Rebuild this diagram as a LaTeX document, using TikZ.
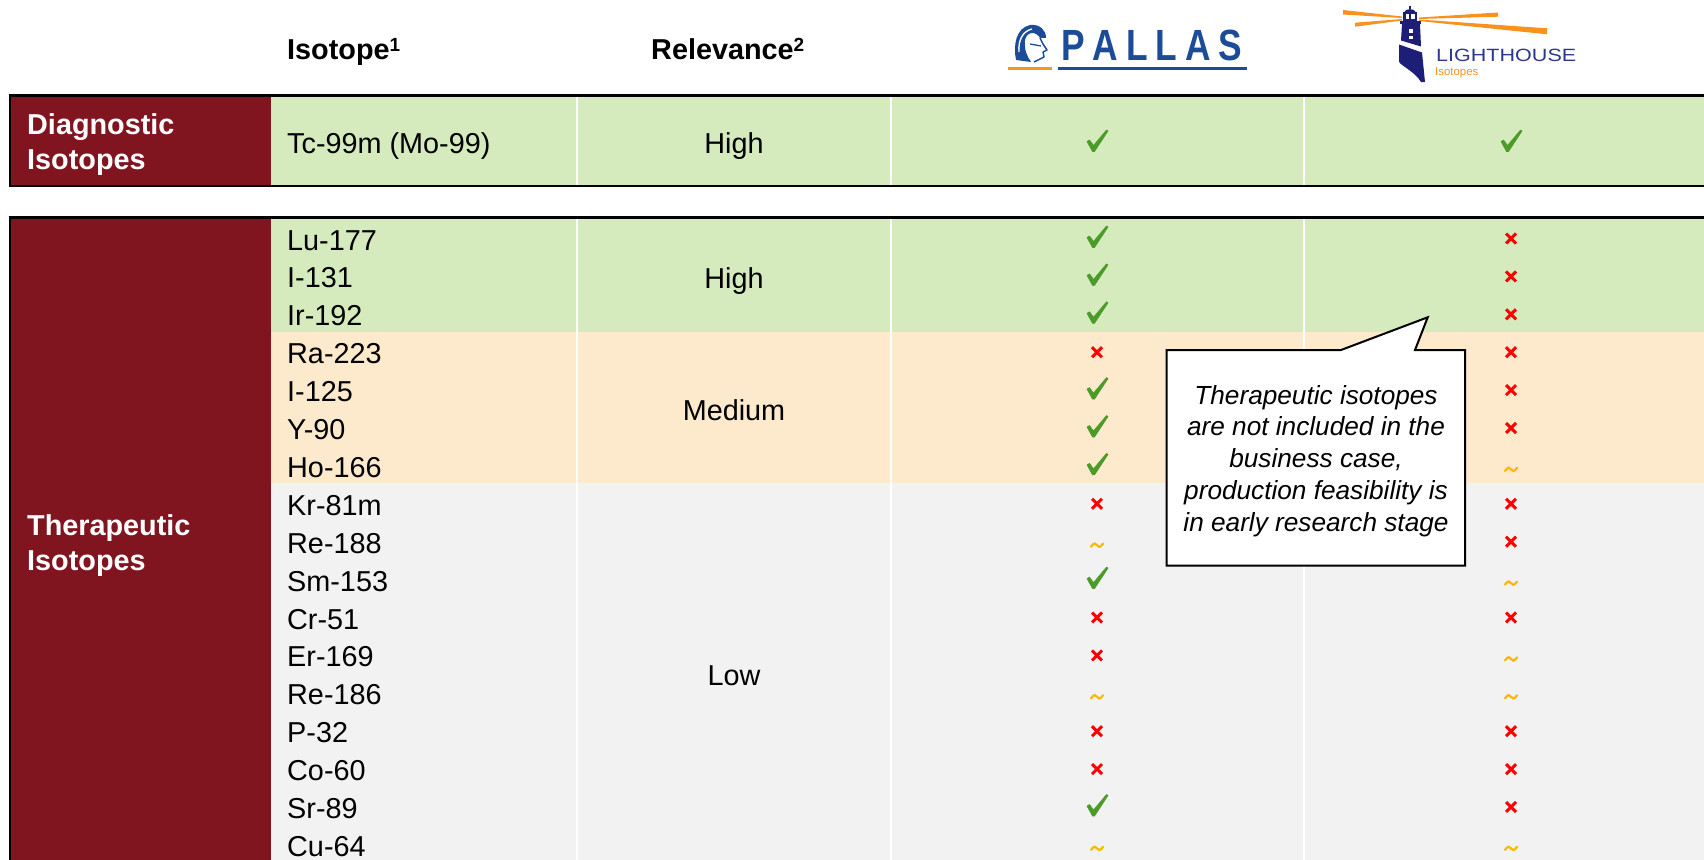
\documentclass[tikz,border=0pt]{standalone}
\usepackage{fontspec}
\usepackage{graphicx}
\setmainfont{Liberation Sans}
\definecolor{maroon}{RGB}{128,21,32}
\definecolor{bandgreen}{RGB}{213,235,190}
\definecolor{bandorange}{RGB}{253,233,203}
\definecolor{bandgrey}{RGB}{242,242,242}
\definecolor{tickgreen}{RGB}{75,155,40}
\definecolor{crossred}{RGB}{255,0,0}
\definecolor{tildeorange}{RGB}{250,185,0}
\definecolor{pallasblue}{RGB}{28,76,152}
\definecolor{pallasorange}{RGB}{245,150,30}
\definecolor{lhnavy}{RGB}{28,30,120}
\definecolor{lhtext}{RGB}{45,55,140}
\definecolor{lhorange}{RGB}{248,145,30}
\begin{document}
\begin{tikzpicture}[x=1pt,y=-1pt,
  cell/.style={font=\fontsize{28.8}{34}\selectfont, inner sep=0pt, text=black},
  hdr/.style={font=\fontsize{28.8}{34}\selectfont\bfseries, inner sep=0pt},
  grp/.style={font=\fontsize{28.8}{35}\selectfont\bfseries, text=white, align=left, inner sep=0pt},
  note/.style={font=\fontsize{26.2}{31.75}\selectfont\itshape, align=center, inner sep=0pt},
  tickmark/.pic={\filldraw[tickgreen, line width=0.6pt, line join=round]
     (-10,0.5) -- (-7.5,-1) -- (-3.5,4.5) -- (9.5,-11) -- (11,-10) -- (-2.5,10.5) -- (-4.5,10.5) -- cycle;},
  crossmark/.pic={\draw[crossred, line width=3pt] (-5,-3.5) -- (5,6.5) (5,-3.5) -- (-5,6.5);},
  tildemark/.pic={\draw[tildeorange, line width=2.2pt, line cap=round]
     (-6,6.5) .. controls (-3,2) and (-1,3) .. (0,5) .. controls (1,7) and (3,8) .. (6,3.5);}
]
\useasboundingbox (0,0) rectangle (1704,859);
\clip (0,0) rectangle (1704,859);

% ---------- table backgrounds ----------
\fill[maroon] (9.6,95.5) rectangle (271,186);
\fill[bandgreen] (271,95.5) rectangle (1730,186);
\fill[maroon] (9.6,217.5) rectangle (271,900);
\fill[bandgreen] (271,217.5) rectangle (1730,331.7);
\fill[bandorange] (271,331.7) rectangle (1730,483.3);
\fill[bandgrey] (271,483.3) rectangle (1730,900);
\foreach \sx in {577,891,1304} {
  \draw[white, line width=2.5pt] (\sx,95.5) -- (\sx,186);
  \draw[white, line width=2.5pt] (\sx,217.5) -- (\sx,900);
}
\draw[line width=2pt] (1730,186) -- (9.6,186) -- (9.6,95.5);
\draw[line width=3pt] (8.6,95.5) -- (1730,95.5);
\draw[line width=2pt] (9.6,217.5) -- (9.6,900);
\draw[line width=3pt] (8.6,217.5) -- (1730,217.5);

% ---------- header ----------
\node[hdr, anchor=base west] (hiso) at (287,59.3) {Isotope\raisebox{8pt}{\fontsize{19}{19}\selectfont 1}};
\node[hdr, anchor=base west] (hrel) at (651,59.3) {Relevance\raisebox{8pt}{\fontsize{19}{19}\selectfont 2}};

% PALLAS logo
\fill[pallasblue] (1016,60) .. controls (1013,45) and (1016,28) .. (1030,25)
   .. controls (1040,24) and (1046,30) .. (1046,38) -- (1040,38)
   .. controls (1036,31) and (1027,31) .. (1025,40) .. controls (1024,50) and (1027,56) .. (1031,62) -- cycle;
\draw[white, line width=1.4pt] (1019,52) .. controls (1018,40) and (1023,31) .. (1032,29);
\draw[pallasblue, line width=1.5pt, line join=round] (1040,38) -- (1043,44) -- (1047,50) -- (1043,52) -- (1044,57) -- (1038,60) -- (1034,62);
\draw[pallasblue, line width=1.3pt] (1030,44) -- (1041,46);
\node[inner sep=0pt, anchor=base west, text=pallasblue] (pallas) at (1061,60)
  {\resizebox{181pt}{30.5pt}{\fontsize{40}{40}\selectfont\bfseries P\kern9pt A\kern9pt L\kern9pt L\kern9pt A\kern9pt S}};
\draw[pallasorange, line width=2.8pt] (1008.3,68.3) -- (1051.7,68.3);
\draw[pallasblue, line width=3pt] (1058.3,68.3) -- (1246.7,68.3);

% LIGHTHOUSE logo
\fill[lhorange] (1343,10) -- (1402,16.5) -- (1402,18) -- (1343,14.5) -- cycle;
\fill[lhorange] (1355,22.7) -- (1402,19) -- (1402,20.5) -- (1355,26.7) -- cycle;
\fill[lhorange] (1419,17.5) -- (1498,12.5) -- (1498,16.7) -- (1419,19) -- cycle;
\fill[lhorange] (1419,19.5) -- (1547,28.3) -- (1547,34.3) -- (1419,21) -- cycle;
\fill[lhnavy] (1404,12.5) .. controls (1405,8) and (1415,8) .. (1416,12.5) -- cycle;
\fill[lhnavy] (1409.2,6) rectangle (1410.8,9);
\fill[lhnavy] (1403,12) rectangle (1417,21.5);
\fill[white] (1405.5,14) rectangle (1408.7,19.5);
\fill[white] (1411.3,14) rectangle (1414.5,19.5);
\fill[lhnavy] (1400,21) rectangle (1421,24.5);
\fill[lhnavy] (1402,24) -- (1420,24) -- (1421,46.5) -- (1401,40.5) -- cycle;
\fill[white] (1409,29.5) rectangle (1413,33.5);
\fill[white] (1409,36) rectangle (1413,39.5);
\fill[lhnavy] (1399,44.5) -- (1422,52.5) -- (1425,82) -- (1421,82)
   .. controls (1415,72) and (1403,67) .. (1399,62) -- cycle;
\node[inner sep=0pt, anchor=base west, text=lhtext] (lighthouse) at (1436,61.7)
  {\resizebox{140pt}{12.4pt}{LIGHTHOUSE}};
\node[inner sep=0pt, anchor=base west, text=lhorange, font=\fontsize{11.4}{12}\selectfont] (lhiso) at (1435,75) {Isotopes};

% ---------- group labels (base = last line) ----------
\node[grp, anchor=base west] (diag) at (27,169.3) {Diagnostic\\Isotopes};
\node[grp, anchor=base west] (thera) at (27,570) {Therapeutic\\Isotopes};

% ---------- diagnostic row ----------
\node[cell, anchor=base west] (tc) at (287,153.3) {Tc-99m (Mo-99)};
\node[cell, anchor=base] (rdiag) at (734,153.3) {High};
\pic at (1097,141) {tickmark};
\pic at (1511,141) {tickmark};

% ---------- therapeutic rows ----------
\node[cell, anchor=base] (rhigh) at (734,288) {High};
\node[cell, anchor=base] (rmed) at (734,420.5) {Medium};
\node[cell, anchor=base] (rlow) at (734,685.8) {Low};
\foreach \iso/\p/\l [count=\i from 0] in {
  Lu-177/tickmark/crossmark, I-131/tickmark/crossmark, Ir-192/tickmark/crossmark,
  Ra-223/crossmark/crossmark, I-125/tickmark/crossmark, Y-90/tickmark/crossmark,
  Ho-166/tickmark/tildemark, Kr-81m/crossmark/crossmark, Re-188/tildemark/crossmark,
  Sm-153/tickmark/tildemark, Cr-51/crossmark/crossmark, Er-169/crossmark/tildemark,
  Re-186/tildemark/tildemark, P-32/crossmark/crossmark, Co-60/crossmark/crossmark,
  Sr-89/tickmark/crossmark, Cu-64/tildemark/tildemark} {
  \pgfmathsetmacro\by{250+37.9*\i}
  \pgfmathsetmacro\cy{237+37.9*\i}
  \node[cell, anchor=base west] (iso\i) at (287,\by) {\iso};
  \edef\tmp{\noexpand\pic at (1097,\cy) {\p}; \noexpand\pic at (1511,\cy) {\l};}\tmp
}

% ---------- callout ----------
\draw[line width=2pt, fill=white, line join=miter] (1166.7,350) -- (1341,350) -- (1427.7,317.3) -- (1415,350)
   -- (1465,350) -- (1465,565.7) -- (1166.7,565.7) -- cycle;
\node[note, anchor=base] (note) at (1316,531) {Therapeutic isotopes\\are not included in the\\business case,\\production feasibility is\\in early research stage};
\end{tikzpicture}
\end{document}
